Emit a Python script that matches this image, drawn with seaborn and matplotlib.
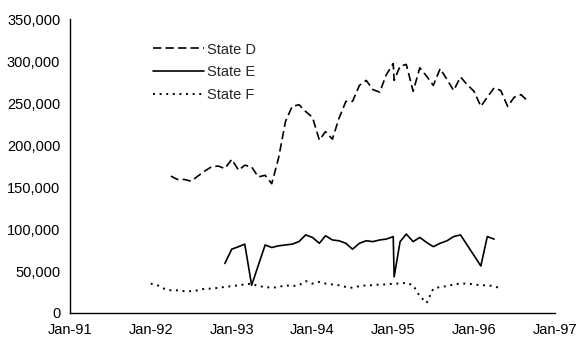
import pandas as pd
import matplotlib
matplotlib.use('Agg')
import matplotlib.pyplot as plt
import matplotlib.dates as mdates
from matplotlib.ticker import FuncFormatter
import seaborn as sns

# State D (dashed), monthly with a double reading in Jan-95
d_dates = ['1992-04-01', '1992-05-01', '1992-06-01', '1992-07-01', '1992-08-01', '1992-09-01',
           '1992-10-01', '1992-11-01', '1992-12-01', '1993-01-01', '1993-02-01', '1993-03-01',
           '1993-04-01', '1993-05-01', '1993-06-01', '1993-07-01', '1993-08-01', '1993-09-01',
           '1993-10-01', '1993-11-01', '1993-12-01', '1994-01-01', '1994-02-01', '1994-03-01',
           '1994-04-01', '1994-05-01', '1994-06-01', '1994-07-01', '1994-08-01', '1994-09-01',
           '1994-10-01', '1994-11-01', '1994-12-01', '1995-01-01', '1995-01-05', '1995-02-01',
           '1995-03-01', '1995-04-01', '1995-05-01', '1995-06-01', '1995-07-01', '1995-08-01',
           '1995-09-01', '1995-10-01', '1995-11-01', '1995-12-01', '1996-01-01', '1996-02-01',
           '1996-03-01', '1996-04-01', '1996-05-01', '1996-06-01', '1996-07-01', '1996-08-01',
           '1996-09-01']
d_values = [163, 159, 159, 157, 163, 169, 174, 175, 172, 183, 170, 176,
            174, 162, 164, 154, 185, 228, 246, 248, 240, 233, 206, 216,
            207, 232, 252, 252, 271, 277, 266, 263, 284, 297, 277, 294,
            296, 264, 292, 282, 271, 291, 278, 265, 281, 272, 264, 246,
            257, 268, 265, 246, 257, 260, 252]

# State E (solid)
e_dates = ['1992-12-01', '1993-01-01', '1993-02-01', '1993-03-01', '1993-04-01', '1993-06-01',
           '1993-07-01', '1993-08-01', '1993-09-01', '1993-10-01', '1993-11-01', '1993-12-01',
           '1994-01-01', '1994-02-01', '1994-03-01', '1994-04-01', '1994-05-01', '1994-06-01',
           '1994-07-01', '1994-08-01', '1994-09-01', '1994-10-01', '1994-11-01', '1994-12-01',
           '1995-01-01', '1995-01-05', '1995-02-01', '1995-03-01', '1995-04-01', '1995-05-01',
           '1995-06-01', '1995-07-01', '1995-08-01', '1995-09-01', '1995-10-01', '1995-11-01',
           '1996-02-01', '1996-03-01', '1996-04-01']
e_values = [59, 76, 79, 82, 33, 81, 78, 80, 81, 82, 85, 93,
            90, 83, 92, 87, 86, 83, 76, 83, 86, 85, 87, 88,
            91, 43, 85, 94, 85, 90, 84, 79, 83, 86, 91, 93,
            56, 91, 88]

# State F (dotted), monthly from Jan-92
f_start = '1992-01-01'
f_values = [35, 33, 29, 27, 27, 26, 26, 27, 29, 29, 30, 31,
            32, 33, 34, 35, 32, 31, 30, 31, 33, 32, 33, 38,
            35, 37, 35, 34, 33, 31, 30, 32, 33, 33, 34, 34,
            35, 35, 36, 33, 20, 12, 29, 31, 32, 34, 35, 35,
            34, 33, 33, 32, 29]

df_d = pd.DataFrame({'date': pd.to_datetime(d_dates), 'value': [v * 1000 for v in d_values]})
df_e = pd.DataFrame({'date': pd.to_datetime(e_dates), 'value': [v * 1000 for v in e_values]})
df_f = pd.DataFrame({'date': pd.date_range(f_start, periods=len(f_values), freq='MS'),
                     'value': [v * 1000 for v in f_values]})

sns.set_style('white')
plt.rcParams['font.family'] = ['Liberation Sans', 'DejaVu Sans']

fig = plt.figure(figsize=(5.76, 3.39), dpi=100)
ax = fig.add_axes([0.1215, 0.0767, 0.842, 0.867])

sns.lineplot(data=df_d, x='date', y='value', ax=ax, color='black', lw=1.2,
             linestyle=(0, (5, 2.5)), estimator=None, sort=False, label='State D')
sns.lineplot(data=df_e, x='date', y='value', ax=ax, color='black', lw=1.2,
             estimator=None, sort=False, label='State E')
sns.lineplot(data=df_f, x='date', y='value', ax=ax, color='black', lw=1.4,
             linestyle=(0, (1, 2.4)), estimator=None, sort=False, label='State F')

ax.set_xlim(pd.Timestamp('1991-01-01'), pd.Timestamp('1997-01-01'))
ax.set_ylim(0, 350000)
ax.set_yticks(range(0, 350001, 50000))
ax.yaxis.set_major_formatter(FuncFormatter(lambda v, p: f'{v:,.0f}'))
ax.xaxis.set_major_locator(mdates.YearLocator())
ax.xaxis.set_major_formatter(mdates.DateFormatter('%b-%y'))
ax.set_xlabel('')
ax.set_ylabel('')

for s in ['top', 'right']:
    ax.spines[s].set_visible(False)
for s in ['left', 'bottom']:
    ax.spines[s].set_color('black')
    ax.spines[s].set_linewidth(1.0)
ax.tick_params(axis='both', direction='out', length=4, width=1, color='black',
               labelsize=10.5, labelcolor='black', pad=3)
ax.tick_params(axis='x', pad=3)

ax.legend(loc='upper left', bbox_to_anchor=(0.16, 0.94), frameon=False,
          fontsize=10.5, handlelength=3.5, handletextpad=0.2, labelspacing=0.6,
          borderaxespad=0)

fig.savefig('out.png', dpi=100)
